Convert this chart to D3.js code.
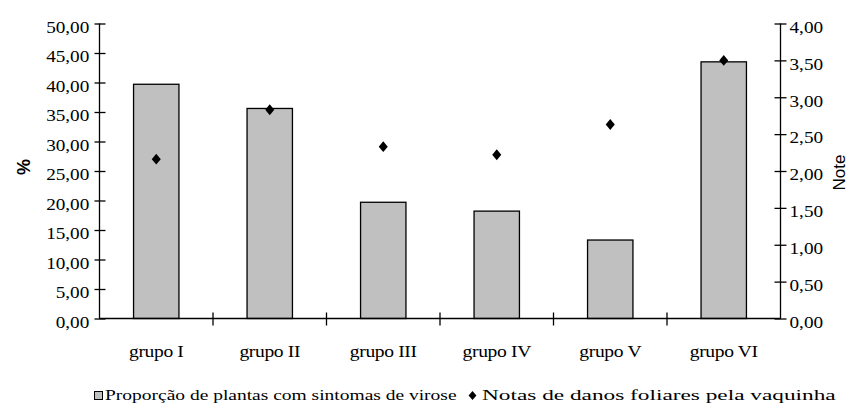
<!DOCTYPE html>
<html>
<head>
<meta charset="utf-8">
<script src="https://cdn.jsdelivr.net/npm/d3@7"></script>
<style>
  body { margin: 0; background: #fff; }
  text { font-family: "Liberation Serif", "Times New Roman", serif; fill: #000; }
</style>
</head>
<body>
<svg width="850" height="410"></svg>
<script>
// Data
const grupos = ["grupo I", "grupo II", "grupo III", "grupo IV", "grupo V", "grupo VI"];
const proporcao = [39.7, 35.6, 19.7, 18.2, 13.3, 43.5];
const notas = [2.16, 2.83, 2.33, 2.22, 2.63, 3.50];
const leftTicks = [0, 5, 10, 15, 20, 25, 30, 35, 40, 45, 50];
const rightTicks = [0, 0.5, 1, 1.5, 2, 2.5, 3, 3.5, 4];
const legendLabels = ["Proporção de plantas com sintomas de virose", "Notas de danos foliares pela vaquinha"];

const svg = d3.select("svg");
const plotLeft = 99.5, plotRight = 780.5, plotTop = 23.5, plotBottom = 318.5;
const stretch = 1.2; // reference font is a wide serif

const x = d3.scaleBand().domain(grupos).range([plotLeft, plotRight]).paddingInner(0.6).paddingOuter(0.3);
const yL = d3.scaleLinear().domain([0, 50]).range([plotBottom, plotTop]);
const yR = d3.scaleLinear().domain([0, 4]).range([plotBottom, plotTop]);
const fmt = d => d.toFixed(2).replace(".", ",");

// bars
svg.append("g").selectAll("rect")
  .data(grupos)
  .enter()
  .append("rect")
  .attr("x", d => x(d))
  .attr("width", x.bandwidth())
  .attr("y", (d, i) => yL(proporcao[i]))
  .attr("height", (d, i) => plotBottom - yL(proporcao[i]))
  .attr("fill", "#c0c0c0")
  .attr("stroke", "#000")
  .attr("stroke-width", 1.3);

// diamonds
const diamond = d3.symbol().type(d3.symbolDiamond2).size(52);
svg.append("g").selectAll("path")
  .data(grupos)
  .enter()
  .append("path")
  .attr("d", diamond)
  .attr("transform", (d, i) => `translate(${x(d) + x.bandwidth() / 2},${yR(notas[i])}) scale(1,1.2)`)
  .attr("fill", "#000");

// left axis
const axL = svg.append("g").attr("transform", `translate(${plotLeft},0)`)
  .call(d3.axisLeft(yL).tickValues(leftTicks).tickFormat(fmt).tickSize(0).tickPadding(8.5));
axL.select(".domain").remove();
axL.append("line").attr("y1", plotTop).attr("y2", plotBottom).attr("stroke", "#000").attr("stroke-width", 1.3);
axL.selectAll(".tick").append("line").attr("x1", -5).attr("x2", 6).attr("stroke", "#000").attr("stroke-width", 1.3);

// right axis
const axR = svg.append("g").attr("transform", `translate(${plotRight},0)`)
  .call(d3.axisRight(yR).tickValues(rightTicks).tickFormat(fmt).tickSize(0).tickPadding(7.5));
axR.select(".domain").remove();
axR.append("line").attr("y1", plotTop).attr("y2", plotBottom).attr("stroke", "#000").attr("stroke-width", 1.3);
axR.selectAll(".tick").append("line").attr("x1", -6).attr("x2", 6).attr("stroke", "#000").attr("stroke-width", 1.3);

svg.selectAll(".tick text")
  .attr("dy", "0.55em")
  .attr("transform", `scale(${stretch},1)`)
  .style("font-size", "16px")
  .style("font-family", "Liberation Serif");

// bottom axis
const axB = svg.append("g").attr("transform", `translate(0,${plotBottom})`);
axB.append("line").attr("x1", plotLeft).attr("x2", plotRight).attr("stroke", "#000").attr("stroke-width", 1.3);
axB.selectAll("line.sep")
  .data(grupos.slice(1))
  .enter()
  .append("line")
  .attr("class", "sep")
  .attr("x1", d => x(d) - x.step() * x.paddingInner() / 2)
  .attr("x2", d => x(d) - x.step() * x.paddingInner() / 2)
  .attr("y1", -6).attr("y2", 7)
  .attr("stroke", "#000").attr("stroke-width", 1.3);
axB.selectAll("text")
  .data(grupos)
  .enter()
  .append("text")
  .attr("transform", d => `translate(${x(d) + x.bandwidth() / 2},38.5) scale(1.15,1)`)
  .attr("text-anchor", "middle")
  .style("font-size", "17px")
  .style("letter-spacing", "-0.3px")
  .text(d => d);

// axis titles
svg.append("text")
  .attr("transform", "translate(30,167) rotate(-90)")
  .attr("text-anchor", "middle")
  .style("font-family", "Liberation Sans")
  .style("font-weight", "bold")
  .style("font-size", "18px")
  .text("%");
svg.append("text")
  .attr("transform", "translate(845,172.5) rotate(-90)")
  .attr("text-anchor", "middle")
  .style("font-family", "Liberation Sans")
  .style("font-size", "17px")
  .text("Note");

// legend: text is stretched horizontally to the width it has in the reference
const legendX = [105, 482], legendW = [352, 354];
const lg = svg.append("g").attr("transform", "translate(0,400)");
lg.append("rect").attr("x", 94.5).attr("y", -8.5).attr("width", 8).attr("height", 8)
  .attr("fill", "#c0c0c0").attr("stroke", "#000").attr("stroke-width", 1);
lg.append("path").attr("d", d3.symbol().type(d3.symbolDiamond2).size(40))
  .attr("transform", "translate(472.5,-4.5) scale(1,1.15)").attr("fill", "#000");
lg.selectAll("text.leg")
  .data(legendLabels)
  .enter()
  .append("text")
  .attr("class", "leg")
  .style("font-size", "15px")
  .text(d => d)
  .attr("transform", function(d, i) {
    const w = this.getComputedTextLength();
    return `translate(${legendX[i]},0) scale(${legendW[i] / w},1)`;
  });
</script>
</body>
</html>
